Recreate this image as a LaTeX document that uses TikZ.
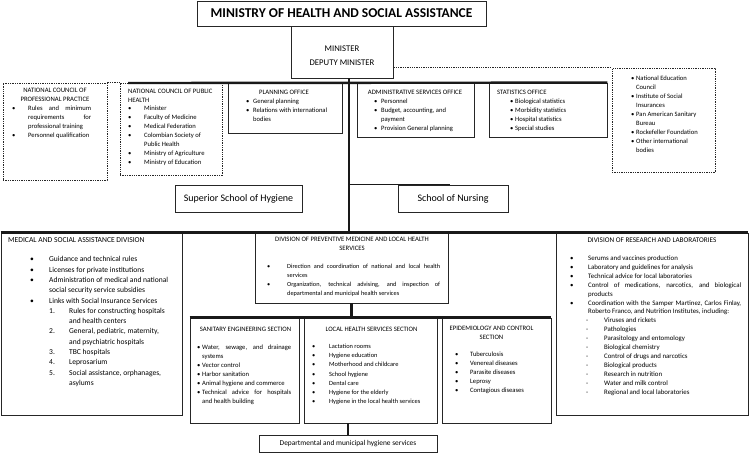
\documentclass[tikz,border=0pt]{standalone}
\usepackage{fontspec}
\setmainfont{Carlito}
\usetikzlibrary{fit}
\newcommand\fz[2]{\fontsize{#1}{#2}\selectfont}
\newcommand\itm[3]{\par\noindent\hangindent=#2\hangafter=1\hspace*{#1}\makebox[\dimexpr#2-#1\relax][l]{#3}\ignorespaces}
\newcommand\blk[2]{\begin{minipage}[t]{#1}\hyphenpenalty=10000\exhyphenpenalty=10000\hbadness=10000\hfuzz=20pt #2\end{minipage}}
\newcommand\ccol[1]{\begin{tabular}[t]{@{}c@{}}#1\end{tabular}}
\newcommand\lcol[1]{\begin{tabular}[t]{@{}l@{}}#1\end{tabular}}
\begin{document}
\begin{tikzpicture}[x=1pt,y=-1pt,
  bx/.style={draw=black!85, line width=0.8pt, inner sep=0pt},
  dbx/.style={bx, dash pattern=on 1.3pt off 1pt},
  dline/.style={draw=black!85, line width=0.8pt, dash pattern=on 1.3pt off 1pt},
  spine/.style={draw=black!90, line width=2.4pt},
  txt/.style={inner sep=0pt, anchor=base west},
  hd/.style={inner sep=0pt, anchor=base},
  hdl/.style={inner sep=0pt, anchor=base west},
  sm/.style={font=\fz{6.6}{9}},
  smh/.style={font=\fz{6.7}{9}}]
\useasboundingbox (0,0) rectangle (750,453);

% ---------- boxes ----------
\node[bx, fit={(197,1) (486,26)}] (title) {};
\node[bx, fit={(291,26) (393,78)}] (minister) {};
\node[dbx, fit={(3,83) (107,180)}] (ncpp) {};
\node[dbx, fit={(120,83) (222,175)}] (ncph) {};
\node[bx, fit={(228,83) (342,133)}] (plan) {};
\node[bx, fit={(357,83) (474,137)}] (admin) {};
\node[bx, fit={(489,83) (607,137)}] (stats) {};
\node[dbx, fit={(612,68) (715,172)}] (ext) {};
\node[bx, fit={(175,185) (302,212)}] (ssh) {};
\node[bx, fit={(398,185) (508,212)}] (son) {};
\node[bx, fit={(1,233) (182,415)}] (med) {};
\node[bx, fit={(255,233) (448,303)}] (prev) {};
\node[bx, fit={(556,233) (748,415)}] (res) {};
\node[bx, fit={(190,318) (299,423)}] (san) {};
\node[bx, fit={(304,318) (437,423)}] (loc) {};
\node[bx, fit={(442,318) (551,423)}] (epi) {};
\node[bx, fit={(259,435) (437,452)}] (dept) {};

% ---------- connectors ----------
\coordinate (sp) at (349,78);
\coordinate (hl) at (128,83);
\coordinate (sonj) at (450,184.5);
\draw[spine] (sp) -- (sp |- med.north);
\draw[spine] (hl) -- (stats.north east);
\draw[spine, line width=1.8pt] (sp |- sonj) -- (sonj);
\draw[dline] (ncpp.north east) -- (ncph.north west);
\draw[dline] (minister.south east |- ext.north west) -- (ext.north west);
\draw[spine] (med.north west) -- (res.north east);
\draw[spine] (prev.south) -- (prev.south |- san.north);
\draw[spine] (san.north west) -- (epi.north east);
\draw[spine] (dept.north |- loc.south) -- (dept.north);

% ---------- texts ----------
\node[font=\bfseries\fz{13.5}{15}, inner sep=0pt] (titlet) at (title.center) {MINISTRY OF HEALTH AND SOCIAL ASSISTANCE};
\node[hd, font=\fz{8.7}{14.5}] (mint) at (342,51) {\ccol{MINISTER\\DEPUTY MINISTER}};

\node[hd, smh] (ncppt) at (55,92.5) {\ccol{NATIONAL COUNCIL OF\\PROFESSIONAL PRACTICE}};
\node[txt, sm] (ncppl) at (12,110.5) {\blk{79pt}{%
\itm{0pt}{16pt}{\textbullet}Rules and minimum\linebreak requirements for\linebreak professional training
\itm{0pt}{16pt}{\textbullet}Personnel qualification}};

\node[hdl, smh] (ncpht) at (128,93.3) {\lcol{NATIONAL COUNCIL OF PUBLIC\\HEALTH}};
\node[txt, sm] (ncphl) at (128,110.8) {\blk{92pt}{%
\itm{0pt}{16pt}{\textbullet}Minister
\itm{0pt}{16pt}{\textbullet}Faculty of Medicine
\itm{0pt}{16pt}{\textbullet}Medical Federation
\itm{0pt}{16pt}{\textbullet}Colombian Society of\\Public Health
\itm{0pt}{16pt}{\textbullet}Ministry of Agriculture
\itm{0pt}{16pt}{\textbullet}Ministry of Education}};

\node[hd, smh] (plant) at (284,94.3) {PLANNING OFFICE};
\node[txt, sm] (planl) at (246,103.3) {\blk{94pt}{%
\itm{0pt}{7pt}{\textbullet}General planning
\itm{0pt}{7pt}{\textbullet}Relations with international\\bodies}};

\node[hd, smh] (admint) at (415,94.3) {ADMINISTRATIVE SERVICES OFFICE};
\node[txt, sm] (adminl) at (374,103.3) {\blk{98pt}{%
\itm{0pt}{7pt}{\textbullet}Personnel
\itm{0pt}{7pt}{\textbullet}Budget, accounting, and\\payment
\itm{0pt}{7pt}{\textbullet}Provision General planning}};

\node[hdl, smh] (statst) at (497,94.3) {STATISTICS OFFICE};
\node[txt, sm] (statsl) at (510,103.8) {\blk{92pt}{%
\itm{0pt}{5pt}{\textbullet}Biological statistics
\itm{0pt}{5pt}{\textbullet}Morbidity statistics
\itm{0pt}{5pt}{\textbullet}Hospital statistics
\itm{0pt}{5pt}{\textbullet}Special studies}};

\node[txt, sm] (extl) at (631,80.3) {\blk{82pt}{%
\itm{0pt}{5pt}{\textbullet}National Education\\Council
\itm{0pt}{5pt}{\textbullet}Institute of Social\\Insurances
\itm{0pt}{5pt}{\textbullet}Pan American Sanitary\\Bureau
\itm{0pt}{5pt}{\textbullet}Rockefeller Foundation
\itm{0pt}{5pt}{\textbullet}Other international\\bodies}};

\node[font=\fz{10}{12}, inner sep=0pt] (ssht) at (ssh.center) {Superior School of Hygiene};
\node[font=\fz{10}{12}, inner sep=0pt] (sont) at (son.center) {School of Nursing};

\node[hdl, font=\fz{7.6}{9}] (medt) at (8,242.8) {MEDICAL AND SOCIAL ASSISTANCE DIVISION};
\node[txt, font=\fz{7.55}{10.3}] (medl) at (30,261.8) {\blk{150pt}{%
\itm{0pt}{19pt}{\textbullet}Guidance and technical rules
\itm{0pt}{19pt}{\textbullet}Licenses for private institutions
\itm{0pt}{19pt}{\textbullet}Administration of medical and national\\social security service subsidies
\itm{0pt}{19pt}{\textbullet}Links with Social Insurance Services
\itm{19pt}{39pt}{1.}Rules for constructing hospitals\\and health centers
\itm{19pt}{39pt}{2.}General, pediatric, maternity,\\and psychiatric hospitals
\itm{19pt}{39pt}{3.}TBC hospitals
\itm{19pt}{39pt}{4.}Leprosarium
\itm{19pt}{39pt}{5.}Social assistance, orphanages,\\asylums}};

\node[hd, smh] (prevt) at (352,241.5) {\ccol{DIVISION OF PREVENTIVE MEDICINE AND LOCAL HEALTH\\SERVICES}};
\node[txt, font=\fz{6.3}{9}] (prevl) at (267,268.3) {\blk{173pt}{%
\itm{0pt}{20pt}{\textbullet}Direction and coordination of national and local health\linebreak services
\itm{0pt}{20pt}{\textbullet}Organization, technical advising, and inspection of\linebreak departmental and municipal health services}};

\node[hd, font=\fz{7.2}{9}] (rest) at (652,242.5) {DIVISION OF RESEARCH AND LABORATORIES};
\node[txt, font=\fz{6.85}{8.9}] (resl) at (570,260.5) {\blk{171pt}{%
\itm{0pt}{18pt}{\textbullet}Serums and vaccines production
\itm{0pt}{18pt}{\textbullet}Laboratory and guidelines for analysis
\itm{0pt}{18pt}{\textbullet}Technical advice for local laboratories
\itm{0pt}{18pt}{\textbullet}Control of medications, narcotics, and biological\linebreak products
\itm{0pt}{18pt}{\textbullet}Coordination with the Samper Martinez, Carlos Finlay,\linebreak Roberto Franco, and Nutrition Institutes, including:
\itm{16pt}{34pt}{-}Viruses and rickets
\itm{16pt}{34pt}{-}Pathologies
\itm{16pt}{34pt}{-}Parasitology and entomology
\itm{16pt}{34pt}{-}Biological chemistry
\itm{16pt}{34pt}{-}Control of drugs and narcotics
\itm{16pt}{34pt}{-}Biological products
\itm{16pt}{34pt}{-}Research in nutrition
\itm{16pt}{34pt}{-}Water and milk control
\itm{16pt}{34pt}{-}Regional and local laboratories}};

\node[hd, smh] (sant) at (245.5,331.5) {SANITARY ENGINEERING SECTION};
\node[txt, font=\fz{6.6}{9}] (sanl) at (197,349.5) {\blk{94pt}{%
\itm{0pt}{5pt}{\textbullet}Water, sewage, and drainage\linebreak systems
\itm{0pt}{5pt}{\textbullet}Vector control
\itm{0pt}{5pt}{\textbullet}Harbor sanitation
\itm{0pt}{5pt}{\textbullet}Animal hygiene and commerce
\itm{0pt}{5pt}{\textbullet}Technical advice for hospitals\linebreak and health building}};

\node[hd, smh] (loct) at (371.5,331.5) {LOCAL HEALTH SERVICES SECTION};
\node[txt, font=\fz{6.4}{9.2}] (locl) at (312,348.5) {\blk{122pt}{%
\itm{0pt}{17pt}{\textbullet}Lactation rooms
\itm{0pt}{17pt}{\textbullet}Hygiene education
\itm{0pt}{17pt}{\textbullet}Motherhood and childcare
\itm{0pt}{17pt}{\textbullet}School hygiene
\itm{0pt}{17pt}{\textbullet}Dental care
\itm{0pt}{17pt}{\textbullet}Hygiene for the elderly
\itm{0pt}{17pt}{\textbullet}Hygiene in the local health services}};

\node[hd, smh] (epit) at (491.5,330.5) {\ccol{EPIDEMIOLOGY AND CONTROL\\SECTION}};
\node[txt, sm] (epil) at (455,356.5) {\blk{90pt}{%
\itm{0pt}{15pt}{\textbullet}Tuberculosis
\itm{0pt}{15pt}{\textbullet}Venereal diseases
\itm{0pt}{15pt}{\textbullet}Parasite diseases
\itm{0pt}{15pt}{\textbullet}Leprosy
\itm{0pt}{15pt}{\textbullet}Contagious diseases}};

\node[font=\fz{7.4}{9}, inner sep=0pt] (deptt) at (dept.center) {Departmental and municipal hygiene services};
\end{tikzpicture}
\end{document}
